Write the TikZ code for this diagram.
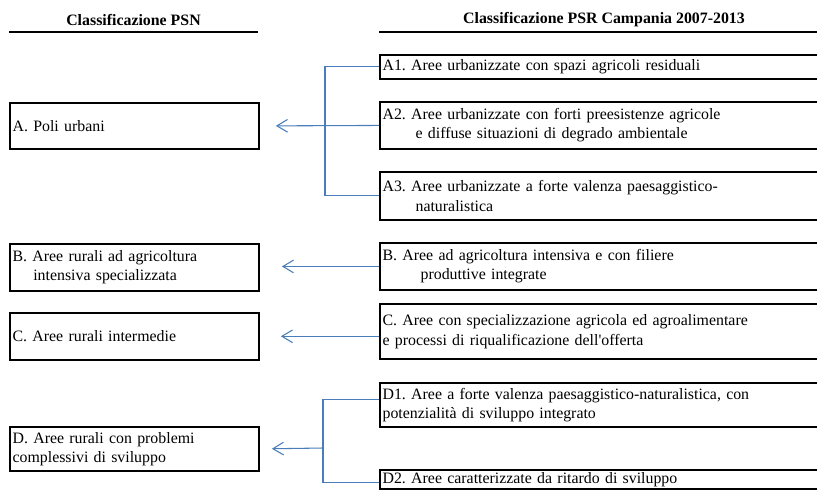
\documentclass[tikz,border=0pt]{standalone}
\usepackage{fontspec}
\setmainfont{Liberation Serif}
\usetikzlibrary{arrows.meta, positioning}
\definecolor{connblue}{HTML}{4A7EBB}
\newcommand{\boxfont}{\fontsize{11.9}{14.5}\selectfont\frenchspacing}

\begin{document}
\begin{tikzpicture}[x=0.75pt, y=-0.75pt,
    lbox/.style={draw, line width=1.4pt, anchor=north west, inner xsep=2pt, inner ysep=1pt,
        minimum width=186.75pt, text width=182.75pt, align=left, font=\boxfont},
    rbox/.style={lbox, minimum width=345pt, text width=341pt},
    head/.style={font=\boxfont\bfseries},
    hrule/.style={line width=1.4pt},
    conn/.style={draw=connblue, line width=0.8pt},
    arw/.style={conn, -{Straight Barb[length=8pt, width=9.5pt]}}]
    \useasboundingbox (0,0) rectangle (817,490);
    \clip (0,0) rectangle (817,490);

    % Headers
    \node[head] (hpsn) at (133.5,20) {Classificazione PSN};
    \node[head] (hpsr) at (604,20) {Classificazione PSR Campania 2007-2013};
    \draw[hrule] (9,32) -- (258,32);
    \draw[hrule] (379,32) -- (830,32);

    % PSN boxes
    \node[lbox, minimum height=34.5pt] (a) at (9,102) {A. Poli urbani};
    \node[lbox, minimum height=35.25pt] (b) at (9,243) {B. Aree rurali ad agricoltura\\\hspace*{15.5pt}intensiva specializzata};
    \node[lbox, minimum height=35.25pt] (c) at (9,312) {C. Aree rurali intermedie};
    \node[lbox, minimum height=33pt] (d) at (9,426) {D. Aree rurali con problemi\\complessivi di sviluppo};

    % PSR boxes
    \node[rbox, minimum height=18pt] (a1) at (379,54) {A1. Aree urbanizzate con spazi agricoli residuali};
    \node[rbox, minimum height=35.25pt] (a2) at (379,101) {A2. Aree urbanizzate con forti preesistenze agricole\\\hspace*{24.75pt}e diffuse situazioni di degrado ambientale};
    \node[rbox, minimum height=36pt] (a3) at (379,171) {A3. Aree urbanizzate a forte valenza paesaggistico-\\\hspace*{24.75pt}naturalistica};
    \node[rbox, minimum height=35.25pt] (br) at (379,242) {B. Aree ad agricoltura intensiva e con filiere\\\hspace*{28.5pt}produttive integrate};
    \node[rbox, minimum height=41.6pt] (cr) at (379,303) {C. Aree con specializzazione agricola ed agroalimentare\\e processi di riqualificazione dell\textquotesingle offerta};
    \node[rbox, minimum height=33pt] (d1) at (379,382) {D1. Aree a forte valenza paesaggistico-naturalistica, con\\potenzialità di sviluppo integrato};
    \node[rbox, minimum height=14.25pt] (d2) at (379,469) {D2. Aree caratterizzate da ritardo di sviluppo};

    % Connectors
    \coordinate (jA) at (325,124.5);
    \coordinate (jD) at (323,448);
    \draw[conn] (a1.west) -| (jA) |- (a3.west);
    \draw[arw, shorten >=12pt] (a2.west) -- (a.east);
    \draw[arw, shorten >=16.5pt] (br.west) -- (br.west -| b.east);
    \draw[arw, shorten >=15.75pt] (cr.west |- 0,336.3) -- (c.east |- 0,336.3);
    \draw[conn] ([yshift=3.75pt]d1.west) -| (jD) |- ([yshift=-2.6pt]d2.west);
    \draw[arw, shorten >=9pt] (jD) -- (d.east);
\end{tikzpicture}
\end{document}
